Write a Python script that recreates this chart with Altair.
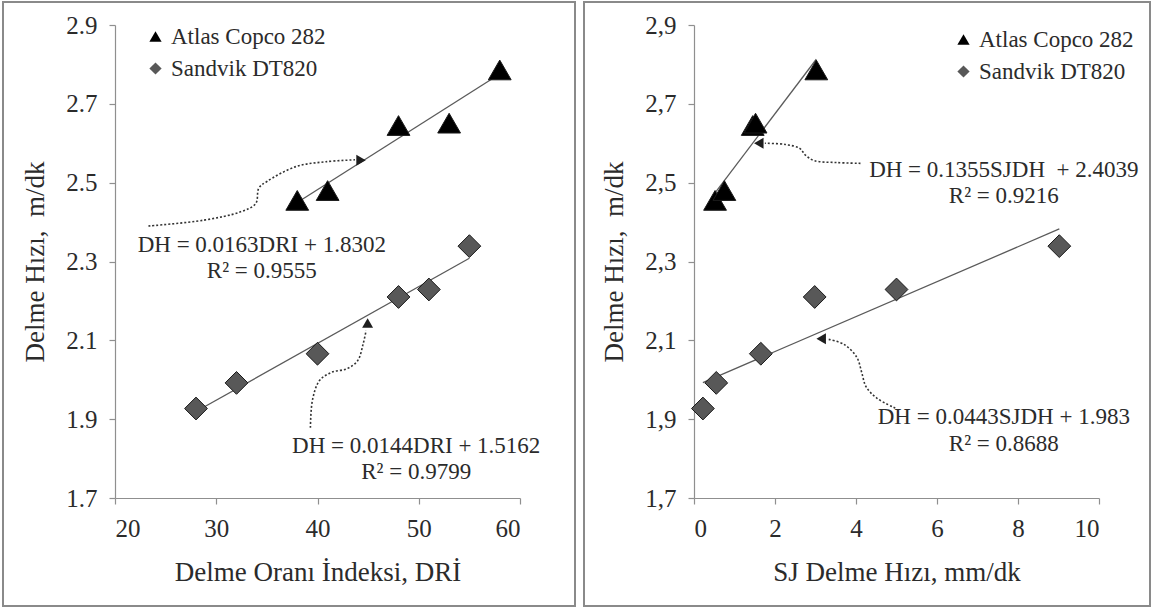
import altair as alt
import pandas as pd

FONT = "Liberation Serif"
INK = "#2b2b2b"
AXIS_GRAY = "#8f8f8f"
FRAME_GRAY = "#8a8a8a"

series_names = ["Atlas Copco 282", "Sandvik DT820"]

# Delme hızı, m/dk
atlas_dh = [2.455, 2.48, 2.645, 2.651, 2.786]
sandvik_dh = [1.927, 1.992, 2.066, 2.21, 2.229, 2.339]

# Delme Oranı İndeksi, DRİ
atlas_dri = [38, 41, 48, 53, 58]
sandvik_dri = [28, 32, 40, 48, 51, 55]

# SJ delme hızı, mm/dk
atlas_sjdh = [0.52, 0.75, 1.45, 1.52, 3.02]
sandvik_sjdh = [0.22, 0.55, 1.65, 2.98, 5.0, 9.02]

# Linear fits (slope, intercept)
fit_dri = {"Atlas Copco 282": (0.0163, 1.8302), "Sandvik DT820": (0.0144, 1.5162)}
fit_sjdh = {"Atlas Copco 282": (0.1355, 2.4039), "Sandvik DT820": (0.0443, 1.983)}

# Equation labels
eq_dri_text = ["DH = 0.0163DRI + 1.8302", "R² = 0.9555",
               "DH = 0.0144DRI + 1.5162", "R² = 0.9799"]
eq_dri_x = [34.5, 34.5, 49.75, 49.75]
eq_dri_y = [2.341, 2.277, 1.832, 1.765]

eq_sjdh_text = ["DH = 0.1355SJDH\u00a0 + 2.4039", "R² = 0.9216",
                "DH = 0.0443SJDH + 1.983", "R² = 0.8688"]
eq_sjdh_x = [7.65, 7.65, 7.65, 7.65]
eq_sjdh_y = [2.532, 2.466, 1.905, 1.838]

# Dotted leader curves from the equations to the fitted lines
lead_dri_a_x = [23.3, 28.8, 32.4, 33.9, 34.2, 35.0, 37.9, 40.8, 43.7]
lead_dri_a_y = [2.390, 2.405, 2.426, 2.447, 2.486, 2.503, 2.541, 2.553, 2.558]
lead_dri_s_x = [39.3, 39.5, 40.2, 41.4, 42.9, 43.96, 44.5, 44.8]
lead_dri_s_y = [1.878, 1.948, 1.998, 2.019, 2.028, 2.048, 2.09, 2.125]
lead_sj_a_x = [4.11, 3.52, 2.97, 2.75, 2.61, 2.25, 1.75]
lead_sj_a_y = [2.549, 2.551, 2.556, 2.57, 2.587, 2.597, 2.6]
lead_sj_s_x = [4.97, 4.52, 4.25, 4.14, 4.02, 3.7, 3.3]
lead_sj_s_y = [1.928, 1.953, 1.982, 2.019, 2.057, 2.09, 2.103]

# Arrowheads at the end of each leader: (x, y, shape)
heads_dri = [(44.3, 2.557, "triangle-right"), (44.95, 2.144, "triangle-up")]
heads_sjdh = [(1.6, 2.6, "triangle-left"), (3.14, 2.104, "triangle-left")]

Y_TICKS = [1.7, 1.9, 2.1, 2.3, 2.5, 2.7, 2.9]
W, H = 405, 473


def points_frame(x_atlas, x_sandvik):
    rows = [{"series": series_names[0], "x": x, "y": y} for x, y in zip(x_atlas, atlas_dh)]
    rows += [{"series": series_names[1], "x": x, "y": y} for x, y in zip(x_sandvik, sandvik_dh)]
    return pd.DataFrame(rows)


def fit_frame(fits, x_atlas, x_sandvik):
    rows = []
    for name, xs in zip(series_names, [x_atlas, x_sandvik]):
        a, b = fits[name]
        for x in (min(xs), max(xs)):
            rows.append({"series": name, "x": x, "y": a * x + b})
    return pd.DataFrame(rows)


def lead_frame(paths):
    rows = []
    for k, (px, py) in enumerate(paths):
        for i, (x, y) in enumerate(zip(px, py)):
            rows.append({"lead": k, "i": i, "x": x, "y": y})
    return pd.DataFrame(rows)


def panel(pts, fits_df, leads_df, heads, eq_text, eq_x, eq_y,
          x_domain, x_ticks, x_title, y_label_expr, legend_x, legend_y, frame_x):
    xs = alt.Scale(domain=x_domain, nice=False, zero=False)
    ys = alt.Scale(domain=[1.7, 2.9], nice=False, zero=False)
    x_axis = alt.Axis(title=x_title, values=x_ticks, labelPadding=12, titlePadding=18)
    y_axis = alt.Axis(title="Delme Hızı,\u00a0 m/dk", values=Y_TICKS,
                      labelExpr=y_label_expr, labelPadding=12, titlePadding=16)

    def X():
        return alt.X("x:Q", scale=xs, axis=x_axis)

    def Y():
        return alt.Y("y:Q", scale=ys, axis=y_axis)

    frame = alt.Chart(alt.Data(values=[{}])).mark_rect(
        fill="transparent", stroke=FRAME_GRAY, strokeWidth=2
    ).encode(
        x=alt.value(frame_x[0]), x2=alt.value(frame_x[1]),
        y=alt.value(-23), y2=alt.value(581),
    )

    trend = alt.Chart(fits_df).mark_line(color="#5a5a5a", strokeWidth=1.3).encode(
        x=X(), y=Y(), detail="series:N"
    )

    leads = alt.Chart(leads_df).mark_line(
        color="#333333", strokeWidth=1.6, strokeDash=[2, 2], interpolate="catmull-rom"
    ).encode(x=X(), y=Y(), detail="lead:N", order="i:Q")

    head_layers = []
    for hx, hy, shp in heads:
        head_layers.append(
            alt.Chart(pd.DataFrame({"x": [hx], "y": [hy]})).mark_point(
                shape=shp, filled=True, color="#1e1e1e", size=120, opacity=1
            ).encode(x=X(), y=Y())
        )

    legend = alt.Legend(
        title=None, orient="none", legendX=legend_x, legendY=legend_y,
        labelFont=FONT, labelFontSize=23, labelColor=INK, labelOffset=4,
        symbolSize=150, rowPadding=8, padding=0, symbolStrokeWidth=0,
    )
    marks = alt.Chart(pts).mark_point(
        filled=True, size=520, opacity=1, stroke="#1a1a1a", strokeWidth=1
    ).encode(
        x=X(), y=Y(),
        shape=alt.Shape("series:N", scale=alt.Scale(domain=series_names,
                                                    range=["triangle-up", "diamond"]),
                        legend=legend),
        color=alt.Color("series:N", scale=alt.Scale(domain=series_names,
                                                    range=["#000000", "#585858"]),
                        legend=legend),
    )

    eqs = alt.Chart(pd.DataFrame({"t": eq_text, "x": eq_x, "y": eq_y})).mark_text(
        font=FONT, fontSize=23, color=INK, align="center", baseline="middle"
    ).encode(x=X(), y=Y(), text="t:N")

    return alt.layer(frame, trend, leads, *head_layers, marks, eqs).properties(
        width=W, height=H
    )


left = panel(
    points_frame(atlas_dri, sandvik_dri),
    fit_frame(fit_dri, atlas_dri, sandvik_dri),
    lead_frame([(lead_dri_a_x, lead_dri_a_y), (lead_dri_s_x, lead_dri_s_y)]),
    heads_dri, eq_dri_text, eq_dri_x, eq_dri_y,
    [20, 60], [20, 30, 40, 50, 60], "Delme Oranı İndeksi, DRİ",
    "format(datum.value, '.1f')", 29, 0, (-112, 460),
)

right = panel(
    points_frame(atlas_sjdh, sandvik_sjdh),
    fit_frame(fit_sjdh, atlas_sjdh, sandvik_sjdh),
    lead_frame([(lead_sj_a_x, lead_sj_a_y), (lead_sj_s_x, lead_sj_s_y)]),
    heads_sjdh, eq_sjdh_text, eq_sjdh_x, eq_sjdh_y,
    [0, 10], [0, 2, 4, 6, 8, 10], "SJ Delme Hızı, mm/dk",
    "replace(format(datum.value, '.1f'), '.', ',')", 258, 3, (-110, 456),
)

chart = alt.hconcat(left, right, spacing=7).resolve_scale(
    x="independent", y="independent", color="independent", shape="independent"
).resolve_legend(
    color="independent", shape="independent"
).properties(
    padding={"left": 2, "top": 1, "right": 0, "bottom": 0},
    background="white",
).configure_view(
    strokeWidth=0
).configure_axis(
    grid=False,
    domainColor=AXIS_GRAY, domainWidth=1.2,
    tickColor=AXIS_GRAY, tickSize=6, tickWidth=1.2,
    labelFont=FONT, labelFontSize=25, labelColor=INK,
    titleFont=FONT, titleFontSize=27, titleFontWeight="normal", titleColor=INK,
)

chart.save("out.html", embed_options={"renderer": "svg", "actions": False})
